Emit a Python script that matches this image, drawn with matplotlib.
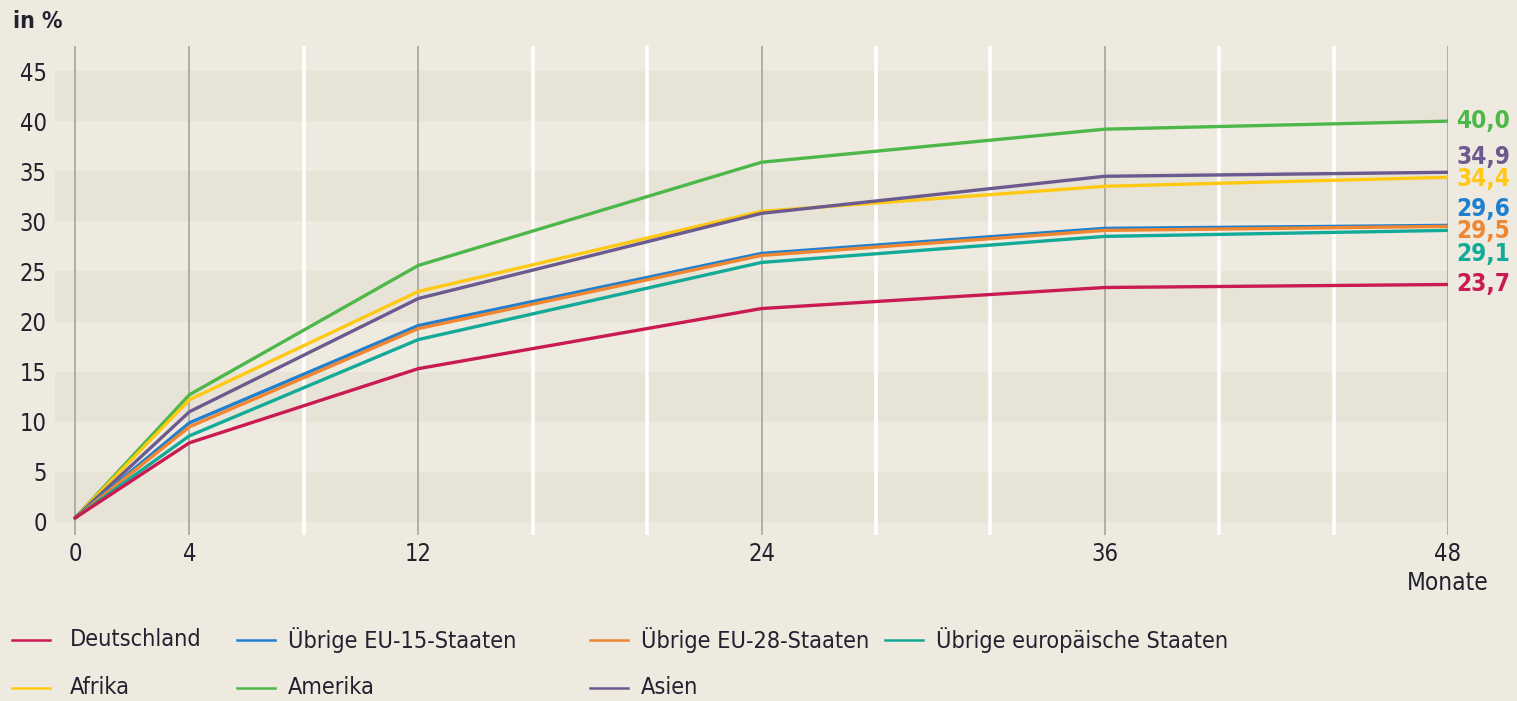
import matplotlib
matplotlib.use('Agg')
import matplotlib.pyplot as plt
from matplotlib.lines import Line2D

# months after arrival and share (in %) per region of origin
monate = [0, 4, 12, 24, 36, 48]
deutschland = [0.4, 7.9, 15.3, 21.3, 23.4, 23.7]
eu15 = [0.4, 9.9, 19.6, 26.8, 29.3, 29.6]
eu28 = [0.4, 9.5, 19.3, 26.6, 29.1, 29.5]
europa = [0.4, 8.6, 18.2, 25.9, 28.5, 29.1]
afrika = [0.4, 12.2, 23.0, 31.0, 33.5, 34.4]
amerika = [0.4, 12.7, 25.6, 35.9, 39.2, 40.0]
asien = [0.4, 11.0, 22.3, 30.8, 34.5, 34.9]

namen = ['Deutschland', 'Übrige EU-15-Staaten', 'Übrige EU-28-Staaten',
         'Übrige europäische Staaten', 'Afrika', 'Amerika', 'Asien']
werte = [deutschland, eu15, eu28, europa, afrika, amerika, asien]
farben = ['#C91A52', '#1F80D0', '#F08630', '#14AA98', '#FFC812', '#4DB849', '#6B5A8F']

yticks = [0, 5, 10, 15, 20, 25, 30, 35, 40, 45]
xticks = [0, 4, 12, 24, 36, 48]
hilfslinien = [8, 16, 20, 28, 32, 40, 44]

# vertical shift of the end labels so they don't overlap (points)
label_shift = [0, 12, -3.5, -17, -1.5, 0, 11]

bg = '#EEEAE0'
band = '#E8E3D7'
txt = '#22222F'

plt.rcParams['font.family'] = ['DejaVu Sans']
plt.rcParams['font.stretch'] = 'condensed'

fig = plt.figure(figsize=(15.17, 7.01), dpi=100, facecolor=bg)
ax = fig.add_axes([55 / 1517, 166 / 701, (1448 - 55) / 1517, 489 / 701])
ax.set_facecolor(bg)
ax.set_xlim(-0.7, 48)
ax.set_ylim(-1.3, 47.5)

# alternating horizontal bands
for y0 in range(0, 45, 10):
    ax.axhspan(y0, y0 + 5, color=band, lw=0, zorder=0)

for x in hilfslinien:
    ax.axvline(x, color='white', lw=2.6, zorder=1)
for x in xticks:
    ax.axvline(x, color='#A9A9A9', lw=1.3, zorder=1)

order = [5, 4, 6, 1, 2, 3, 0]
for i in order:
    ax.plot(monate, werte[i], color=farben[i], lw=2.4, zorder=3,
            solid_capstyle='round', solid_joinstyle='round')

for i in range(len(namen)):
    wert = werte[i][-1]
    ax.annotate(f'{wert:.1f}'.replace('.', ','), (48, wert),
                xytext=(6, label_shift[i]), textcoords='offset points',
                color=farben[i], fontsize=17.5, fontweight='bold',
                va='center', ha='left', annotation_clip=False)

for s in ax.spines.values():
    s.set_visible(False)
ax.set_yticks(yticks)
ax.set_xticks(xticks)
ax.tick_params(length=0, labelsize=17, labelcolor=txt)
ax.tick_params(axis='y', pad=6)
ax.tick_params(axis='x', pad=5)

fig.text(13 / 1517, 1 - 22 / 701, 'in %', fontsize=16.5, fontweight='bold',
         color=txt, va='center', ha='left')
fig.text(1448 / 1517, 1 - 583 / 701, 'Monate', fontsize=17.5, color=txt,
         va='center', ha='center')

# legend, two rows
spalten = [12, 237, 590, 885]
zeilen = [640, 688]
for i, name in enumerate(namen):
    xp = spalten[i % 4] if i < 4 else spalten[i - 4]
    yp = zeilen[0] if i < 4 else zeilen[1]
    gap = 20 if xp == 12 else 13
    fig.add_artist(Line2D([xp / 1517, (xp + 38) / 1517],
                          [1 - yp / 701, 1 - yp / 701],
                          color=farben[i], lw=1.8))
    fig.text((xp + 38 + gap) / 1517, 1 - yp / 701, name, fontsize=16.8,
             color=txt, va='center', ha='left')

fig.savefig('out.png', dpi=100, facecolor=bg)
